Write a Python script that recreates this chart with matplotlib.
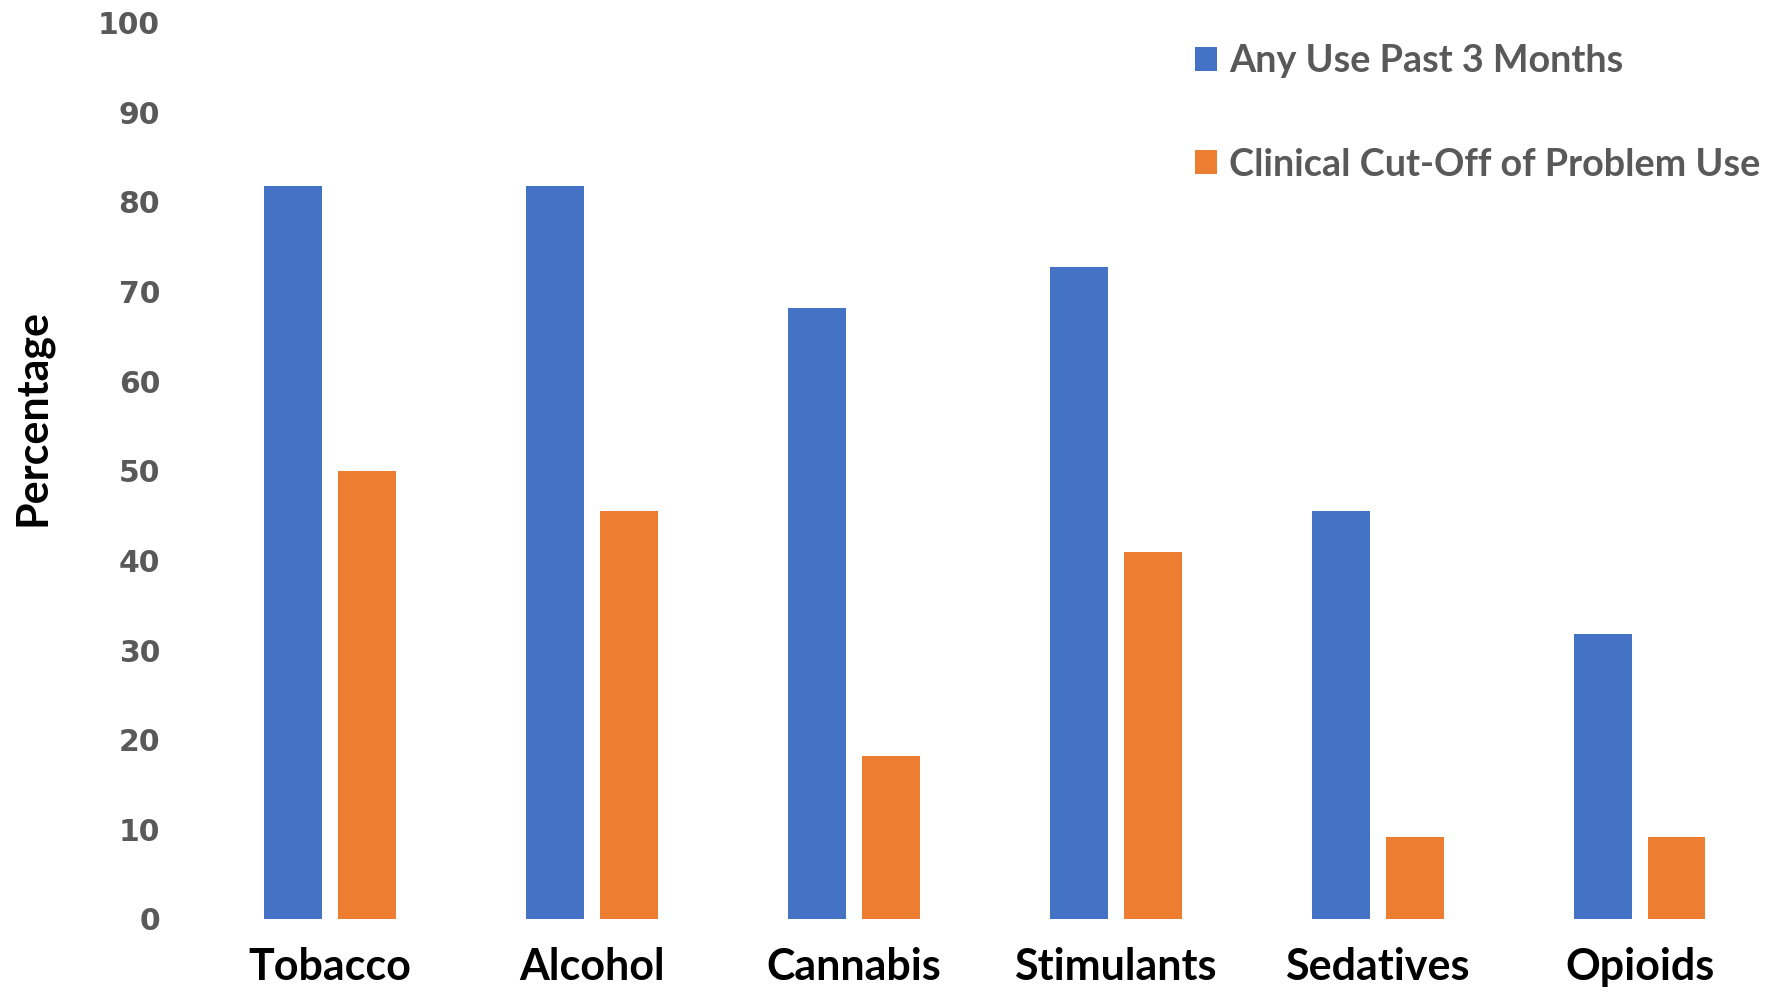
import numpy as np
import matplotlib
matplotlib.use("Agg")
import matplotlib.pyplot as plt

# Data (percentages)
categories = ["Tobacco", "Alcohol", "Cannabis", "Stimulants", "Sedatives", "Opioids"]
any_use = [81.8, 81.8, 68.2, 72.7, 45.5, 31.8]
problem_use = [50.0, 45.5, 18.2, 40.9, 9.1, 9.1]
series_names = ["Any Use Past 3 Months", "Clinical Cut-Off of Problem Use"]
yticks = list(range(0, 101, 10))

blue = "#4472C4"
orange = "#ED7D31"
grey = "#595959"

fig = plt.figure(figsize=(17.83, 9.92), dpi=100)
ax = fig.add_axes([0.1116, 0.0736, 0.8814, 0.9035])

x = np.arange(len(categories))
w = 0.221
off = 0.141
b1 = ax.bar(x - off, any_use, w, color=blue, label=series_names[0])
b2 = ax.bar(x + off, problem_use, w, color=orange, label=series_names[1])

ax.set_xlim(-0.5, len(categories) - 0.5)
ax.set_ylim(0, 100)
ax.set_yticks(yticks)
ax.set_yticklabels([str(t) for t in yticks], fontfamily="DejaVu Sans",
                   fontweight="bold", fontsize=21.5, color=grey)
ax.set_xticks(x)
ax.set_xticklabels(categories, fontfamily="Lato", fontweight="bold",
                   fontsize=31, color="black")
ax.tick_params(axis="y", length=0, pad=28)
ax.tick_params(axis="x", length=0, pad=20)
for s in ax.spines.values():
    s.set_visible(False)

ax.set_ylabel("Percentage", fontfamily="Lato", fontweight="bold",
              fontsize=31, color="black")
ax.yaxis.set_label_coords(-0.093, 0.56)

leg = ax.legend(handles=[b1, b2], loc="upper left",
                bbox_to_anchor=(0.651, 0.99), bbox_transform=fig.transFigure,
                frameon=False, handlelength=0.6, handleheight=0.6,
                handletextpad=0.3, labelspacing=1.85,
                prop={"family": "Lato", "weight": "bold", "size": 27.2})
for t in leg.get_texts():
    t.set_color(grey)

fig.savefig("out.png", dpi=100)
